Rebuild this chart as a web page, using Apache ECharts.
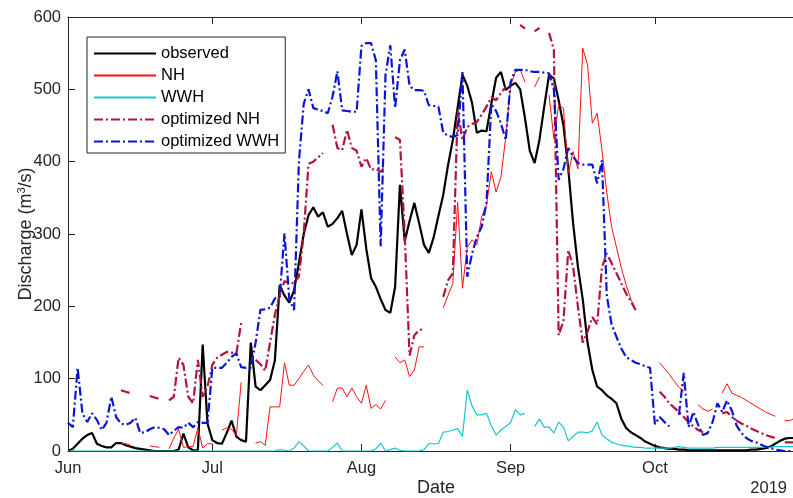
<!DOCTYPE html>
<html>
<head>
<meta charset="utf-8">
<script src="https://cdn.jsdelivr.net/npm/echarts@6/dist/echarts.min.js"></script>
<style>
html,body{margin:0;padding:0;background:#fff;}
#chart{width:793px;height:498px;}
</style>
</head>
<body>
<div id="chart"></div>
<script>
// Day index 0 = 2019-06-01 (daily values)
const monthStartDays = [0, 30, 61, 92, 122];
const monthLabels = ['Jun', 'Jul', 'Aug', 'Sep', 'Oct'];
const yearLabel = '2019';
const seriesNames = ['observed', 'NH', 'WWH', 'optimized NH', 'optimized WWH'];

const observed = [
  0,3,10,17,22,25,10,7,5,5,
  11,11,8,6,4,3,2,1,0,0,
  0,0,0,2,24,5,1,1,147,38,
  15,11,10,25,42,20,15,13,150,89,
  84,91,98,125,229,215,205,222,260,300,
  326,337,324,330,310,314,322,332,300,271,
  285,334,280,239,227,210,195,191,227,368,
  290,318,343,315,285,274,295,325,354,395,
  430,475,520,505,481,440,443,442,480,516,
  524,499,505,509,500,460,415,398,430,476,
  520,515,485,450,390,315,255,210,150,112,
  89,84,77,72,66,45,32,26,22,18,
  13,10,7,5,4,3,3,2,2,1,
  1,1,1,1,1,1,1,1,1,1,
  1,1,2,2,3,4,6,10,14,17,
  18,18,18
];

const nh = [
  null,null,null,null,null,null,null,null,null,null,
  null,11,10,8,null,null,null,7,6,5,
  null,3,18,30,5,6,6,32,4,10,
  10,null,29,32,30,22,95,null,null,11,
  13,8,61,61,61,122,91,91,100,110,
  119,105,97,91,null,68,87,87,75,87,
  75,66,91,59,64,58,70,null,130,122,
  126,103,112,144,144,null,null,null,198,215,
  232,344,225,282,292,285,324,340,386,358,
  379,434,505,524,527,510,null,503,517,null,
  492,432,478,474,384,414,390,557,534,453,
  467,416,357,310,282,254,230,210,195,null,
  null,null,null,122,114,106,97,88,83,null,
  null,64,58,55,58,null,80,93,80,77,
  74,70,66,62,58,54,51,48,null,42,
  42,45,47
];

const wwh = [
  0,0,0,0,0,0,0,0,0,0,
  0,0,0,0,0,0,0,0,0,0,
  0,0,0,0,0,0,0,0,0,0,
  0,0,0,0,0,0,0,0,0,0,
  0,0,0,0,2,1,0,4,13,7,
  0,0,0,0,0,5,11,0,0,0,
  0,0,0,0,3,11,0,2,4,1,
  0,0,0,0,2,10,10,10,26,27,
  29,31,20,84,62,50,50,52,35,22,
  29,34,39,57,50,52,null,34,44,33,
  33,25,40,33,14,20,26,26,25,28,
  40,22,17,12,10,8,7,6,5,5,
  4,4,4,4,4,4,5,6,5,4,
  4,4,4,4,4,5,5,5,5,5,
  5,5,5,5,5,5,5,6,6,6,
  6,6,6
];

const optNh = [
  null,null,null,null,null,null,null,null,null,null,
  null,84,82,80,null,null,null,76,74,72,
  null,70,75,129,119,75,66,126,75,89,
  119,129,133,137,136,135,177,null,null,126,
  120,111,150,188,215,235,232,232,241,300,
  397,400,406,412,null,451,419,416,444,419,
  415,393,405,389,390,386,394,null,434,430,
  300,132,160,167,169,null,null,null,213,236,
  246,471,430,448,452,455,465,476,489,485,
  495,503,null,null,589,584,null,580,585,null,
  578,555,160,180,278,255,200,150,165,185,
  175,254,273,260,246,232,218,207,195,null,
  null,null,null,82,75,66,60,54,47,40,
  34,29,26,24,null,null,52,54,47,42,
  38,35,31,28,25,22,20,18,null,12,
  12,12,12
];

const optWwh = [
  39,33,115,52,40,52,43,29,39,75,
  47,38,36,39,46,25,26,30,33,32,
  30,22,28,33,32,39,33,40,39,39,
  115,115,115,122,130,135,116,115,115,150,
  195,196,198,211,213,301,210,195,400,480,
  500,474,472,470,467,490,525,471,470,469,
  469,560,564,564,540,283,520,561,474,540,
  555,505,499,499,498,478,477,476,440,436,
  434,437,524,241,273,296,310,343,480,470,
  453,430,510,527,527,527,525,524,524,523,
  522,500,375,390,419,407,398,396,396,396,
  370,402,215,175,158,142,130,126,122,120,
  117,115,37,47,40,34,null,50,108,33,
  54,36,22,25,40,66,54,70,56,35,
  25,18,14,12,9,6,4,2,1,0,
  0,0,0
];

const dayMax = 153; // 2019-11-01

function toPairs(arr) { return arr.map((v, i) => [i, v]); }

const FONT = "'Liberation Sans', Arial, Helvetica, sans-serif";
const AX = '#262626';
const dashDot = [9, 3, 2, 3];

const chart = echarts.init(document.getElementById('chart'), null, {renderer: 'canvas'});
const tickCommon = {show: true, inside: true, length: 7, customValues: monthStartDays, lineStyle: {color: AX, width: 1}};

chart.setOption({
  animation: false,
  backgroundColor: '#ffffff',
  textStyle: {fontFamily: FONT},
  grid: {left: 68, width: 736, top: 17, bottom: 47, containLabel: false, outerBoundsMode: 'none'},
  legend: {
    orient: 'vertical',
    left: 87, top: 37,
    padding: [8, 6, 3, 6],
    itemWidth: 62, itemHeight: 14, itemGap: 5,
    borderColor: AX, borderWidth: 1,
    backgroundColor: '#ffffff',
    itemStyle: {opacity: 0},
    textStyle: {fontSize: 16.5, color: '#000', fontFamily: FONT},
    data: seriesNames
  },
  xAxis: [{
    type: 'value', min: 0, max: dayMax, position: 'bottom',
    axisLine: {show: true, onZero: false, lineStyle: {color: AX, width: 1}},
    splitLine: {show: false},
    axisTick: tickCommon,
    axisLabel: {
      customValues: monthStartDays,
      formatter: v => monthLabels[monthStartDays.indexOf(v)] || '',
      fontSize: 16.5, color: AX, margin: 9, fontFamily: FONT
    },
    name: 'Date', nameLocation: 'middle', nameGap: 28, nameMoveOverlap: false,
    nameTextStyle: {fontSize: 18, color: AX, fontFamily: FONT}
  }, {
    type: 'value', min: 0, max: dayMax, position: 'top',
    axisLine: {show: true, onZero: false, lineStyle: {color: AX, width: 1}},
    splitLine: {show: false},
    axisTick: tickCommon,
    axisLabel: {show: false}
  }],
  yAxis: {
    type: 'value', min: 0, max: 600, interval: 100,
    axisLine: {show: true, lineStyle: {color: AX, width: 1}},
    splitLine: {show: false},
    axisTick: {show: true, inside: true, length: 7, lineStyle: {color: AX}},
    axisLabel: {fontSize: 16.5, color: AX, margin: 7, fontFamily: FONT},
    name: 'Discharge (m{sup|3}/s)', nameLocation: 'middle', nameGap: 32, nameRotate: 90,
    nameMoveOverlap: false,
    nameTextStyle: {
      fontSize: 18, color: AX, fontFamily: FONT, lineHeight: 20,
      rich: {sup: {fontSize: 11, color: AX, fontFamily: FONT, verticalAlign: 'top', lineHeight: 20, padding: [0, 0, 0, 0]}}
    }
  },
  graphic: [{
    type: 'text', right: 6, top: 480,
    style: {text: yearLabel, font: '16.5px ' + FONT, fill: AX}
  }],
  series: [
    {name: 'observed', type: 'line', data: toPairs(observed), symbol: 'none', connectNulls: false,
     lineStyle: {color: '#000000', width: 2.2}, itemStyle: {color: '#000000'}},
    {name: 'NH', type: 'line', data: toPairs(nh), symbol: 'none', connectNulls: false,
     lineStyle: {color: '#FF1010', width: 1}, itemStyle: {color: '#FF1010'}},
    {name: 'WWH', type: 'line', data: toPairs(wwh), symbol: 'none', connectNulls: false,
     lineStyle: {color: '#14C8D0', width: 1.2}, itemStyle: {color: '#14C8D0'}},
    {name: 'optimized NH', type: 'line', data: toPairs(optNh), symbol: 'none', connectNulls: false,
     lineStyle: {color: '#B3133A', width: 2.2, type: dashDot}, itemStyle: {color: '#B3133A'}},
    {name: 'optimized WWH', type: 'line', data: toPairs(optWwh), symbol: 'none', connectNulls: false,
     lineStyle: {color: '#0A14D2', width: 2.2, type: dashDot}, itemStyle: {color: '#0A14D2'}}
  ]
});
</script>
</body>
</html>
